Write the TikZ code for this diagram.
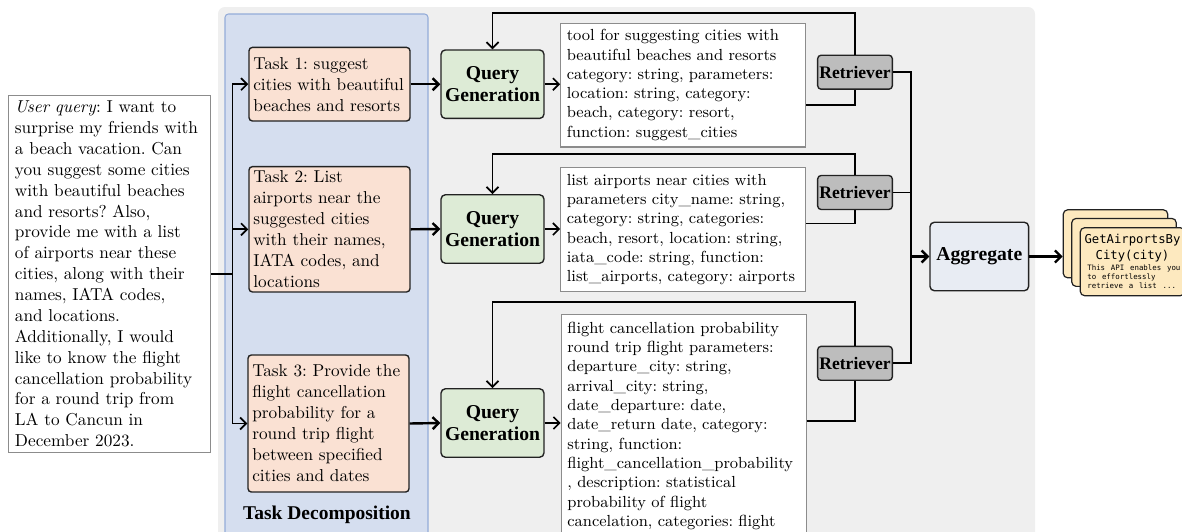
\documentclass[tikz,border=0pt]{standalone}
\usepackage{fontspec}
\newfontfamily\lblfont{Liberation Serif}
\newfontfamily\cardmono{DejaVu Sans Mono}
\usetikzlibrary{arrows.meta}
\frenchspacing
\definecolor{panelgray}{HTML}{EFEFEF}
\definecolor{decompfill}{HTML}{D5DEEF}
\definecolor{decompline}{HTML}{94ACD8}
\definecolor{taskfill}{HTML}{FAE1D3}
\definecolor{genfill}{HTML}{DDEBD6}
\definecolor{retfill}{HTML}{BDBDBD}
\definecolor{aggfill}{HTML}{E8ECF3}
\definecolor{cardfill}{HTML}{FDE9BF}
\definecolor{boxline}{HTML}{222222}
\definecolor{descline}{HTML}{8C8C8C}
\tikzset{
  textbox/.style={draw=descline, fill=white, line width=0.6pt, align=left,
    inner xsep=4pt, inner ysep=2pt, font=\fontsize{10}{12.1}\selectfont},
  toolbox/.style={draw=descline, fill=white, line width=0.6pt, align=left,
    text width=135pt, inner xsep=3.55pt, inner ysep=2pt,
    font=\fontsize{9.3}{11.2}\selectfont},
  taskbox/.style={draw=boxline, fill=taskfill, rounded corners=2pt, line width=0.8pt,
    text width=88.4pt, align=left, inner xsep=2.5pt, inner ysep=1pt,
    font=\fontsize{10}{12.2}\selectfont},
  genbox/.style={draw=boxline, fill=genfill, rounded corners=2.5pt, line width=0.8pt,
    minimum width=59.7pt, minimum height=39.7pt, inner sep=0pt, align=center,
    font=\lblfont\bfseries\fontsize{11.4}{12.8}\selectfont},
  retbox/.style={draw=boxline, fill=retfill, rounded corners=2pt, line width=0.8pt,
    minimum width=43.3pt, minimum height=19.7pt, inner sep=0pt,
    font=\lblfont\bfseries\fontsize{10.2}{12}\selectfont},
  aggbox/.style={draw=boxline, fill=aggfill, rounded corners=2.5pt, line width=0.8pt,
    minimum width=57.2pt, minimum height=39.7pt, inner sep=0pt,
    font=\lblfont\bfseries\fontsize{11.4}{13}\selectfont},
  card/.style={draw=boxline, fill=cardfill, rounded corners=2.5pt, line width=0.7pt,
    minimum width=60.6pt, minimum height=39.4pt, inner sep=0pt, font=\cardmono},
  link/.style={line width=1pt},
  >={Straight Barb[length=3.5pt,width=7pt]}
}
\begin{document}
\begin{tikzpicture}[x=0.58pt,y=-0.58pt]
  \useasboundingbox (0,0) rectangle (1182,531);
  \fill[panelgray, rounded corners=4pt] (218,7) rectangle (1035,560);
  \filldraw[fill=decompfill, draw=decompline, line width=0.6pt, rounded corners=2pt]
    (225,14) rectangle (428,560);
  \node[font=\lblfont\bfseries\fontsize{11.3}{13}\selectfont] (decomp) at (327,515) {Task Decomposition};

  \node[textbox, text width=109.7pt, minimum height=207.6pt] (query) at (109.5,274)
    {\textit{User query}: I want to\\ surprise my friends with\\ a beach vacation. Can\\
     you suggest some cities\\ with beautiful beaches\\ and resorts? Also,\\
     provide me with a list\\ of airports near these\\ cities, along with their\\
     names, IATA codes,\\ and locations.\\ Additionally, I would\\
     like to know the flight\\ cancellation probability\\ for a round trip from\\
     LA to Cancun in\\ December 2023.};

  \node[taskbox, minimum height=42.7pt] (task1) at (329.5,84.2)
    {Task 1: suggest\\ cities with beautiful\\ beaches and resorts};
  \node[taskbox, minimum height=72.7pt] (task2) at (329.5,229.3)
    {Task 2: List\\ airports near the\\ suggested cities\\ with their names,\\ IATA codes, and\\ locations};
  \node[taskbox, minimum height=79.5pt] (task3) at (328.5,423.5)
    {Task 3: Provide the\\ flight cancellation\\ probability for a\\ round trip flight\\ between specified\\ cities and dates};

  \node[genbox] (gen1) at (492.5,84.2) {Query\\Generation};
  \node[genbox] (gen2) at (492.5,229) {Query\\Generation};
  \node[genbox] (gen3) at (492.5,423) {Query\\Generation};

  \node[toolbox, minimum height=71.9pt] (tool1) at (683.2,85)
    {tool for suggesting cities with\\ beautiful beaches and resorts\\ category: string, parameters:\\
     location: string, category:\\ beach, category: resort,\\ function: suggest\_cities};
  \node[toolbox, minimum height=71.9pt] (tool2) at (683.2,229.7)
    {list airports near cities with\\ parameters city\_name: string,\\ category: string, categories:\\
     beach, resort, location: string,\\ iata\_code: string, function:\\ list\_airports, category: airports};
  \node[toolbox, anchor=north west, inner ysep=4.2pt] (tool3) at (560.7,314.3)
    {flight cancellation probability\\ round trip flight parameters:\\ departure\_city: string,\\
     arrival\_city: string,\\ date\_departure: date,\\ date\_return date, category:\\
     string, function:\\ flight\_cancellation\_probability\\ , description: statistical\\
     probability of flight\\ cancelation, categories: flight};

  \node[retbox] (ret1) at (855,72.2) {Retriever};
  \node[retbox] (ret2) at (855,192.5) {Retriever};
  \node[retbox] (ret3) at (855,363.3) {Retriever};

  \node[aggbox] (agg) at (979.3,256.5) {Aggregate};
  \coordinate (bus) at (911,256.5);

  \node[card] (card1) at (1115.5,243.8) {};
  \node[card] (card2) at (1124,252.4) {};
  \node[card, text width=57.6pt, inner xsep=1.5pt, align=left] (card3) at (1132.5,261.7)
    {{\centering\fontsize{7.1}{9.3}\selectfont GetAirportsBy\\City(city)\par}\vskip1.2pt
     {\leftskip=2.6pt\fontsize{4.3}{5.2}\selectfont This API enables you\\to effortlessly\\retrieve a list ...\par}};

  \begin{scope}[link]
    \draw (query.east) -- ++(21,0) coordinate (split);
    \draw[->] (split) |- (task1.west);
    \draw[->] (split) |- (task2.west);
    \draw[->] (split) |- (task3.west);
    \draw[->, line width=1.4pt] (task1.east) -- (gen1.west);
    \draw[->, line width=1.4pt] (task2.east) -- (gen2.west);
    \draw[->, line width=1.4pt] (task3.east) -- (gen3.west);
    \draw[->] (gen1.east) -- (gen1.east -| tool1.west);
    \draw[->] (gen2.east) -- (gen2.east -| tool2.west);
    \draw[->] (gen3.east) -- (gen3.east -| tool3.west);
    \draw ([shift={(0,82.7)}]tool1.north east) -| (ret1.south);
    \draw ([shift={(0,56.3)}]tool2.north east) -| (ret2.south);
    \draw ([shift={(0,106.7)}]tool3.north east) -| (ret3.south);
    \draw[->] (ret1.north) -- ++(0,-41.2) -| (gen1.north);
    \draw[->] (ret2.north) -- ++(0,-20.8) -| (gen2.north);
    \draw[->] (ret3.north) -- ++(0,-43.6) -| (gen3.north);
    \draw (ret1.east) -| (bus);
    \draw (ret2.east) -| (bus);
    \draw (ret3.east) -| (bus);
    \draw[->, line width=1.4pt] (bus) -- (agg.west);
    \draw[->, line width=1.4pt] (agg.east) -- (agg.east -| card1.west);
  \end{scope}
\end{tikzpicture}
\end{document}
